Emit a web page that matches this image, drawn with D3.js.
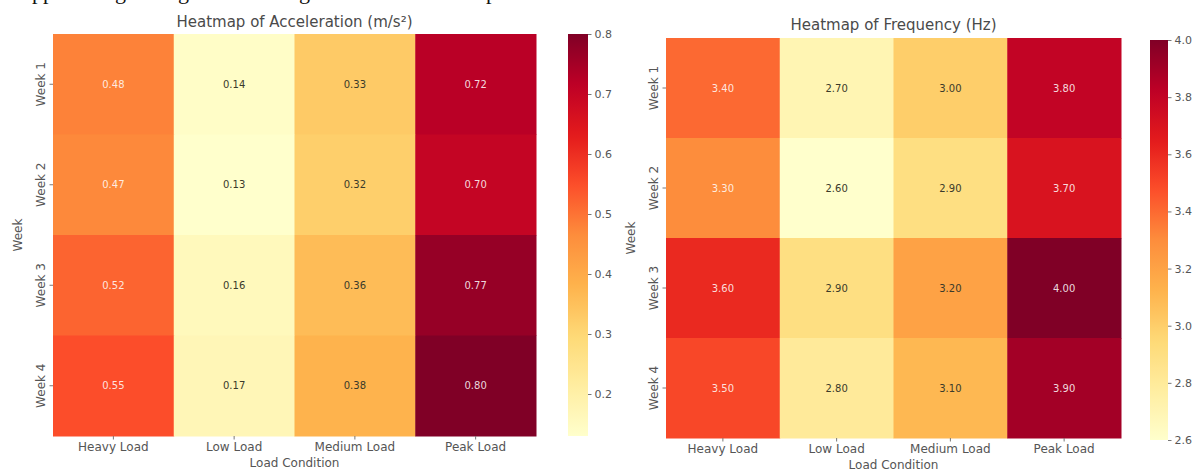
<!DOCTYPE html>
<html>
<head>
<meta charset="utf-8">
<script src="https://cdn.jsdelivr.net/npm/d3@7"></script>
<style>
  html, body { margin: 0; padding: 0; background: #ffffff; }
  svg { display: block; }
  text { font-family: "DejaVu Sans", sans-serif; }
</style>
</head>
<body>
<svg id="chart" width="1196" height="470"></svg>
<script>
// ---------- data ----------
const conditions = ["Heavy Load", "Low Load", "Medium Load", "Peak Load"];
const weeks = ["Week 1", "Week 2", "Week 3", "Week 4"];
const accelValues = [
  [0.48, 0.14, 0.33, 0.72],
  [0.47, 0.13, 0.32, 0.70],
  [0.52, 0.16, 0.36, 0.77],
  [0.55, 0.17, 0.38, 0.80]
];
const freqValues = [
  [3.40, 2.70, 3.00, 3.80],
  [3.30, 2.60, 2.90, 3.70],
  [3.60, 2.90, 3.20, 4.00],
  [3.50, 2.80, 3.10, 3.90]
];
const accelTicks = [0.2, 0.3, 0.4, 0.5, 0.6, 0.7, 0.8];
const freqTicks = [2.6, 2.8, 3.0, 3.2, 3.4, 3.6, 3.8, 4.0];
const accelTitle = "Heatmap of Acceleration (m/s\u00B2)";
const freqTitle = "Heatmap of Frequency (Hz)";
const xAxisTitle = "Load Condition";
const yAxisTitle = "Week";

// YlOrRd (ColorBrewer 9) stops
const ylOrRd = ["#ffffcc", "#ffeda0", "#fed976", "#feb24c", "#fd8d3c", "#fc4e2a", "#e31a1c", "#bd0026", "#800026"];

const svg = d3.select("#chart");
const TXT = "#555555";

// cropped caption fragments at the very top (only descenders visible, as in the reference)
const cap = svg.append("text")
  .attr("y", -1)
  .style("font-family", "'Liberation Serif', serif")
  .style("font-size", "22px")
  .attr("fill", "#111");
[["pp", 32], ["g", 115], ["g", 178], ["g", 299], ["p", 486]].forEach(([s, x]) => {
  cap.append("tspan").attr("x", x).text(s);
});

function luminance(c) {
  const rgb = d3.rgb(c);
  const f = v => { v /= 255; return v <= 0.03928 ? v / 12.92 : Math.pow((v + 0.055) / 1.055, 2.4); };
  return 0.2126 * f(rgb.r) + 0.7152 * f(rgb.g) + 0.0722 * f(rgb.b);
}

function drawPanel(cfg) {
  const { values, ticks, title, box, cbar, titleY, id } = cfg;
  const flat = values.flat();
  const vmin = d3.min(flat), vmax = d3.max(flat);
  const color = d3.scaleLinear()
    .domain(ylOrRd.map((_, i) => vmin + (vmax - vmin) * i / (ylOrRd.length - 1)))
    .range(ylOrRd)
    .interpolate(d3.interpolateRgb)
    .clamp(true);

  const x = d3.scaleBand().domain(conditions).range([box.x0, box.x1]).padding(0);
  const y = d3.scaleBand().domain(weeks).range([box.y0, box.y1]).padding(0);

  const g = svg.append("g");

  // cells
  const cells = [];
  values.forEach((row, i) => row.forEach((v, j) => cells.push({ week: weeks[i], cond: conditions[j], v })));
  g.selectAll("rect.cell").data(cells).enter().append("rect")
    .attr("x", d => x(d.cond))
    .attr("y", d => y(d.week))
    .attr("width", x.bandwidth() + 0.5)
    .attr("height", y.bandwidth() + 0.5)
    .attr("fill", d => color(d.v));

  g.selectAll("text.annot").data(cells).enter().append("text")
    .attr("x", d => x(d.cond) + x.bandwidth() / 2)
    .attr("y", d => y(d.week) + y.bandwidth() / 2)
    .attr("dy", "0.35em")
    .attr("text-anchor", "middle")
    .style("font-size", "10px")
    .attr("fill", d => luminance(color(d.v)) > 0.408 ? "#3a3a2a" : "#ffffff")
    .attr("fill-opacity", d => luminance(color(d.v)) > 0.408 ? 1 : 0.85)
    .text(d => d.v.toFixed(2));

  // x axis
  const xa = g.append("g")
    .attr("transform", `translate(0,${box.y1})`)
    .call(d3.axisBottom(x).tickSize(3.5).tickPadding(3));
  xa.select(".domain").remove();
  xa.selectAll(".tick line").attr("stroke", "#777");
  xa.selectAll("text").style("font-size", "12px").attr("fill", TXT).style("font-family", "'DejaVu Sans', sans-serif");

  // y axis
  const ya = g.append("g")
    .attr("transform", `translate(${box.x0},0)`)
    .call(d3.axisLeft(y).tickSize(3.5));
  ya.select(".domain").remove();
  ya.selectAll(".tick line").attr("stroke", "#777");
  ya.selectAll("text")
    .attr("transform", "rotate(-90)")
    .attr("x", 0).attr("y", -8).attr("dy", 0)
    .style("text-anchor", "middle")
    .style("font-size", "12px")
    .style("font-family", "'DejaVu Sans', sans-serif")
    .attr("fill", TXT);

  // titles
  g.append("text")
    .attr("x", (box.x0 + box.x1) / 2).attr("y", titleY)
    .attr("text-anchor", "middle")
    .style("font-size", "15px")
    .attr("fill", "#4a4a4a")
    .text(title);
  g.append("text")
    .attr("x", (box.x0 + box.x1) / 2).attr("y", box.y1 + 31)
    .attr("text-anchor", "middle")
    .style("font-size", "12px")
    .attr("fill", TXT)
    .text(xAxisTitle);
  g.append("text")
    .attr("transform", `translate(${box.x0 - 31},${(box.y0 + box.y1) / 2}) rotate(-90)`)
    .attr("text-anchor", "middle")
    .style("font-size", "12px")
    .attr("fill", TXT)
    .text(yAxisTitle);

  // colorbar
  const cScale = d3.scaleLinear().domain([vmin, vmax]).range([cbar.y1, cbar.y0]);
  const grad = svg.append("defs").append("linearGradient")
    .attr("id", id).attr("x1", 0).attr("y1", 1).attr("x2", 0).attr("y2", 0);
  d3.range(0, 1.0001, 0.02).forEach(t => {
    grad.append("stop").attr("offset", t).attr("stop-color", color(vmin + (vmax - vmin) * t));
  });
  g.append("rect")
    .attr("x", cbar.x0).attr("y", cbar.y0)
    .attr("width", cbar.x1 - cbar.x0).attr("height", cbar.y1 - cbar.y0)
    .attr("fill", `url(#${id})`);
  const ca = g.append("g")
    .attr("transform", `translate(${cbar.x1},0)`)
    .call(d3.axisRight(cScale).tickValues(ticks).tickSize(3.5).tickPadding(3).tickFormat(d3.format(".1f")));
  ca.select(".domain").remove();
  ca.selectAll(".tick line").attr("stroke", "#777");
  ca.selectAll("text").style("font-size", "11px").attr("fill", TXT).style("font-family", "'DejaVu Sans', sans-serif");
}

drawPanel({
  id: "gradA",
  values: accelValues,
  ticks: accelTicks,
  title: accelTitle,
  box: { x0: 53, x1: 536, y0: 34, y1: 436 },
  cbar: { x0: 568, x1: 588, y0: 34, y1: 436 },
  titleY: 27
});
drawPanel({
  id: "gradF",
  values: freqValues,
  ticks: freqTicks,
  title: freqTitle,
  box: { x0: 666, x1: 1121, y0: 38, y1: 438 },
  cbar: { x0: 1150, x1: 1168, y0: 40, y1: 440 },
  titleY: 30
});
</script>
</body>
</html>
